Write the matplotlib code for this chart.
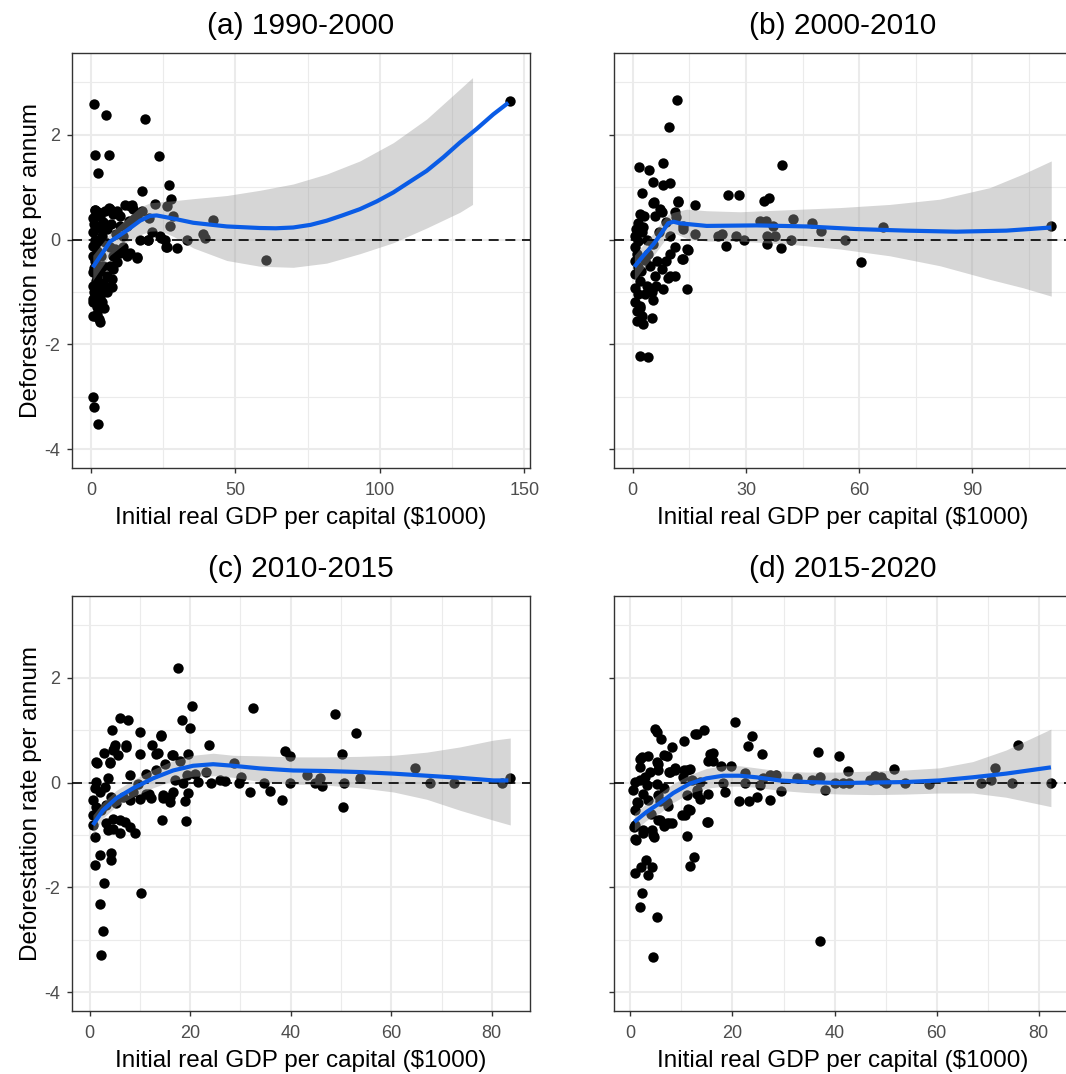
import matplotlib
matplotlib.use("Agg")
import matplotlib.pyplot as plt
from matplotlib.ticker import MultipleLocator

plt.rcParams['font.family'] = ['Liberation Sans', 'DejaVu Sans']
plt.rcParams['axes.unicode_minus'] = False

# (a) 1990-2000 : scatter points
a_x = [1.15, 5.1, 18.6, 1.3, 6.1, 2.3, 23.4, 26.9, 17.5, 27.8, 1.3, 6.1, 11.8, 14.1, 22.3, 26.2,
       42.1, 38.8, 39.6, 60.6, 145.0, 25.8, 29.7, 24.1, 17.0, 19.8, 33.1, 15.8, 12.3, 0.8, 1.0, 2.3,
       3.1, 1.2, 2.0, 3.7, 0.8, 7.2, 5.4, 27.3, 28.5, 20.2, 14.7, 12.3,
       1.4, 2.4, 0.7, 6.6, 7.6, 10.0, 13.5, 14.5, 17.6, 21.0, 24.0, 25.6, 19.7, 26.3, 15.9, 13.5,
       11.1, 10.0, 7.6, 9.0, 6.6, 7.6, 5.5, 7.3, 4.2, 5.9,
       0.8, 1.4, 0.8, 2.0, 0.6, 1.4, 2.5, 0.8, 2.0, 0.8, 2.5, 1.4, 0.6, 2.0, 0.8,
       4.2, 5.5, 3.8, 4.8, 10.0, 11.1, 3.5, 4.2, 3.5,
       1.0, 3.0, 2.2, 3.0, 1.6, 3.2, 2.8, 1.1, 4.5, 2.6, 8.5, 9.0, 5.0, 3.3, 7.0, 1.8, 0.9, 2.1,
       6.5, 8.2, 13.0, 16.0]
a_y = [2.58, 2.37, 2.30, 1.61, 1.62, 1.27, 1.60, 1.04, 0.92, 0.77, 0.57, 0.60, 0.66, 0.66, 0.67, 0.64,
       0.38, 0.11, 0.03, -0.39, 2.65, -0.15, -0.16, 0.03, 0.0, 0.0, 0.0, -0.35, -0.31, -3.0, -3.19, -3.52,
       -1.57, -1.46, -1.42, -1.2, -1.14, -0.9, -1.01, 0.26, 0.45, 0.42, 0.39, 0.26,
       0.57, 0.52, 0.42, 0.58, 0.48, 0.45, 0.64, 0.58, 0.54, 0.14, 0.07, 0.0, 0.0, -0.15, -0.34, -0.25,
       -0.15, -0.25, -0.32, -0.43, -0.51, -0.57, -0.7, -0.76, -0.82, -0.91,
       0.14, 0.0, -0.13, -0.22, -0.32, -0.41, -0.51, -0.62, -0.72, -0.89, -0.95, -1.08, -1.2, -1.29, -1.46,
       0.33, 0.2, 0.07, -0.05, 0.25, 0.07, -0.32, -0.51, -0.95,
       0.3, 0.45, -0.05, -0.6, -0.8, -1.1, -0.3, -0.55, -1.3, -1.52, 0.1, 0.55, 0.55, 0.2, 0.3, 0.25, -1.0, -1.15,
       -0.15, -0.18, 0.35, 0.45]
a_fit_x = [0.6, 6.6, 12.3, 17.0, 20.4, 22.7, 28.5, 35.4, 47.0, 58.5, 64.0, 70.0, 76.0, 81.6, 87.0, 93.1,
           99.0, 104.7, 110.0, 116.2, 122.0, 127.7, 133.5, 139.3, 144.5]
a_fit_y = [-0.53, -0.04, 0.17, 0.36, 0.45, 0.46, 0.40, 0.32, 0.25, 0.22, 0.215, 0.23, 0.28, 0.36, 0.46, 0.58,
           0.73, 0.90, 1.09, 1.31, 1.57, 1.85, 2.11, 2.39, 2.61]
a_band_x = [0.6, 6.6, 12.3, 17.0, 20.4, 23.9, 28.5, 35.4, 47.0, 58.5, 70.0, 81.6, 93.1, 104.7, 116.2, 127.7, 132.1]
a_band_hi = [-0.30, 0.12, 0.40, 0.62, 0.70, 0.72, 0.74, 0.78, 0.84, 0.94, 1.06, 1.25, 1.50, 1.85, 2.30, 2.87, 3.09]
a_band_lo = [-0.78, -0.30, -0.05, 0.09, 0.16, 0.17, 0.06, -0.16, -0.40, -0.51, -0.53, -0.45, -0.27, -0.06, 0.22, 0.52, 0.67]

# (b) 2000-2010
b_x = [11.8, 9.6, 39.6, 8.1, 1.7, 4.3, 5.3, 8.1, 9.9, 2.6, 5.7, 11.9, 16.5, 25.3, 28.1, 34.9, 36.1,
       7.7, 42.5, 47.4, 49.9, 56.2, 60.4, 66.4, 110.9, 33.7, 35.2, 37.2, 22.5, 23.6, 24.6, 27.5, 29.5,
       35.5, 37.7, 35.7, 39.3, 41.9, 14.3, 14.6, 13.4, 16.5, 13.4, 11.2, 9.4, 1.9, 4.1, 2.8, 5.1, 1.1,
       1.9, 5.3, 6.2, 3.3,
       5.5, 7.2, 5.9, 1.9, 1.4, 2.8, 12.0, 11.2, 8.9, 11.6, 13.3, 0.6, 1.5, 0.6, 1.1, 0.5, 1.5, 0.6,
       1.9, 0.6, 1.5, 0.6, 1.9, 3.7, 5.5, 4.1, 6.4, 4.6, 7.7, 5.9, 3.7, 5.0, 9.9, 11.2, 9.9, 8.9,
       14.3, 13.0, 9.9, 8.1, 2.5, 3.2, 2.2, 1.0, 3.0, 7.0, 2.4, 1.2]
b_y = [2.66, 2.15, 1.42, 1.47, 1.39, 1.32, 1.09, 1.04, 1.07, 0.88, 0.72, 0.74, 0.66, 0.85, 0.85, 0.74, 0.79,
       0.53, 0.39, 0.32, 0.17, 0.0, -0.43, 0.24, 0.26, 0.36, 0.36, 0.26, 0.07, 0.1, -0.12, 0.07, 0.0,
       0.07, 0.07, -0.09, -0.17, 0.0, -0.95, -0.2, -0.38, 0.1, 0.2, -0.69, -0.73, -2.22, -2.25, -1.62, -1.5, -1.36,
       -1.27, -1.16, -0.89, -1.04,
       0.7, 0.58, 0.45, 0.48, 0.32, 0.23, 0.71, 0.52, 0.33, 0.43, 0.26, 0.07, -0.03, -0.15, -0.28, -0.41, -0.53, -0.66,
       -0.79, -0.92, -1.04, -1.2, -1.3, 0.0, -0.09, -0.28, -0.41, -0.5, -0.57, -0.69, -0.89, -1.01, 0.07, -0.15, -0.28, -0.41,
       -0.19, -0.38, -0.69, -0.95, 0.15, -0.4, -0.6, 0.2, 0.45, 0.15, -1.45, -1.55]
b_fit_x = [0.44, 2.8, 5.5, 7.7, 9.4, 10.8, 12.5, 19.6, 32.8, 46.1, 59.3, 72.5, 85.8, 99.0, 110.9]
b_fit_y = [-0.52, -0.31, -0.09, 0.13, 0.31, 0.34, 0.31, 0.26, 0.27, 0.25, 0.20, 0.17, 0.15, 0.17, 0.23]
b_band_x = [0.44, 2.8, 5.5, 7.7, 9.4, 10.8, 14.3, 19.6, 28.4, 41.6, 54.9, 68.1, 81.4, 94.6, 103.4, 110.9]
b_band_hi = [-0.30, -0.10, 0.12, 0.35, 0.48, 0.52, 0.58, 0.55, 0.53, 0.57, 0.61, 0.67, 0.77, 0.99, 1.25, 1.50]
b_band_lo = [-0.78, -0.55, -0.31, -0.09, 0.07, 0.13, 0.02, -0.03, -0.03, -0.09, -0.18, -0.31, -0.50, -0.76, -0.92, -1.08]

# (c) 2010-2015
c_x = [17.6, 20.3, 32.5, 48.8, 52.9, 18.4, 19.9, 6.0, 7.6, 4.5, 10.0, 14.3, 7.3, 4.8, 2.8, 1.5, 4.0,
       5.6, 10.1, 12.5, 13.6, 16.6, 23.8, 19.6, 38.8, 39.8, 50.2, 28.8, 64.7, 50.5, 38.2, 35.9, 31.9,
       30.2, 27.0, 24.1, 21.6, 20.9, 23.2, 19.3, 18.9, 19.1, 14.5, 16.6, 15.9, 14.7, 10.0, 11.8, 10.3,
       2.8, 2.0, 2.7, 2.3, 1.0, 2.0, 4.3, 4.3, 1.0, 0.66, 3.7, 4.6, 6.0, 7.0, 8.0, 9.0, 39.8, 43.2,
       44.9, 45.9, 46.3, 50.7, 53.8, 67.7, 72.4, 82.0, 83.7, 34.7, 29.7,
       4.6, 4.0, 1.3, 7.3, 5.0, 13.3, 14.3, 16.3, 17.9, 1.3, 1.0, 2.0, 0.66, 1.3, 2.3, 0.66, 3.6, 3.0,
       4.3, 3.3, 5.3, 6.6, 8.0, 9.6, 8.6, 8.0, 11.3, 13.3, 14.9, 11.3, 12.3, 14.6, 15.9, 3.3, 4.6, 6.0,
       18.5, 17.0, 19.5, 26.0]
c_y = [2.18, 1.47, 1.43, 1.30, 0.95, 1.19, 1.04, 1.23, 1.2, 1.01, 0.97, 0.88, 0.68, 0.65, 0.57, 0.37, 0.37,
       0.52, 0.55, 0.71, 0.57, 0.52, 0.72, 0.54, 0.6, 0.51, 0.55, 0.38, 0.28, -0.46, -0.34, -0.17, -0.18,
       0.1, 0.03, 0.0, 0.01, 0.17, 0.2, 0.14, -0.35, -0.74, -0.72, -0.18, -0.27, -0.3, -0.32, -0.21, -2.11,
       -1.91, -2.32, -2.84, -3.3, -1.57, -1.38, -1.34, -1.47, -1.03, -0.81, -0.91, -0.7, -0.72, -0.75, -0.84, -0.97, -0.01, 0.15,
       -0.01, 0.09, -0.06, -0.01, 0.09, 0.0, 0.0, 0.0, 0.08, 0.0, 0.0,
       0.62, 0.39, 0.39, 0.71, 0.71, 0.55, 0.9, 0.52, 0.42, 0.01, -0.11, -0.18, -0.34, -0.46, -0.53, -0.62, 0.08, -0.08,
       -0.27, -0.43, -0.4, -0.27, 0.14, -0.02, -0.18, -0.34, 0.17, 0.23, 0.36, -0.21, -0.3, -0.24, -0.37, -0.78, -0.88, -0.97,
       0.0, 0.05, -0.2, 0.05]
c_fit_x = [0.66, 2.66, 5.31, 8.63, 12.62, 16.6, 20.58, 24.57, 28.55, 33.86, 40.5, 47.14, 53.78, 60.43, 67.07, 73.7, 80.35, 83.3]
c_fit_y = [-0.81, -0.53, -0.30, -0.11, 0.08, 0.23, 0.32, 0.35, 0.32, 0.27, 0.23, 0.22, 0.20, 0.17, 0.13, 0.09, 0.04, 0.04]
c_band_x = [0.66, 2.66, 5.31, 8.63, 12.62, 16.6, 20.58, 24.57, 28.55, 33.86, 40.5, 47.14, 53.78, 60.43, 67.07, 73.7, 80.35, 83.67]
c_band_hi = [-0.62, -0.38, -0.15, 0.05, 0.25, 0.42, 0.52, 0.56, 0.52, 0.51, 0.49, 0.49, 0.50, 0.52, 0.58, 0.68, 0.81, 0.85]
c_band_lo = [-1.00, -0.68, -0.45, -0.27, -0.10, 0.04, 0.12, 0.13, 0.10, 0.02, -0.03, -0.05, -0.10, -0.18, -0.32, -0.53, -0.72, -0.81]

# (d) 2015-2020
d_x = [20.5, 4.8, 6.1, 14.5, 12.6, 10.6, 8.1, 23.8, 23.1, 25.7, 16.2, 15.2, 7.1, 3.5, 1.9, 5.5, 7.6,
       8.7, 10.6, 11.7, 17.7, 19.7, 36.8, 40.9, 42.6, 51.6, 75.9, 71.4, 82.4, 74.7, 68.7, 70.6, 58.5,
       53.8, 50.1, 47.0, 48.0, 49.0, 49.5, 40.1, 41.6, 42.8, 38.2, 37.1, 35.5, 32.7, 29.6, 27.3, 28.6,
       27.3, 24.8, 23.2, 21.2, 18.5, 18.1, 22.5, 22.5, 25.3, 26.0, 15.1, 11.0, 12.5, 11.7, 10.1, 11.3,
       7.6, 6.5, 5.5, 4.2, 4.7, 2.5, 1.1, 0.8, 3.1, 2.0, 4.3, 1.0, 3.4, 2.2, 1.9, 5.3, 4.5, 37.2,
       7.4, 5.8, 13.6, 13.0,
       5.2, 6.5, 13.0, 2.2, 5.2, 1.9, 5.5, 7.8, 8.7, 11.0, 15.6, 16.2, 0.9, 1.9, 3.2, 0.6, 2.5, 1.3,
       3.5, 0.9, 5.2, 6.5, 5.5, 7.1, 10.4, 12.0, 13.6, 11.0, 13.0, 15.2, 11.7, 10.7, 0.9, 2.5, 0.9, 4.5,
       15.2, 5.8, 7.1, 8.1, 1.5, 2.8, 4.0, 3.8]
d_y = [1.16, 1.02, 0.84, 1.0, 0.92, 0.79, 0.68, 0.88, 0.7, 0.55, 0.57, 0.41, 0.51, 0.51, 0.44, 0.36, 0.2,
       0.23, 0.23, 0.25, 0.31, 0.31, 0.58, 0.5, 0.22, 0.25, 0.72, 0.28, 0.0, 0.0, 0.0, 0.04, -0.02,
       0.0, 0.0, 0.05, 0.12, 0.1, 0.02, 0.0, 0.0, 0.0, -0.15, 0.11, 0.04, 0.08, -0.16, 0.14, 0.14,
       -0.34, -0.27, -0.36, -0.36, -0.19, 0.0, 0.18, 0.0, -0.05, 0.08, -0.75, -1.02, -1.43, -1.6, -0.61, -0.5,
       -0.78, -0.83, -0.72, -0.9, -1.03, -0.97, -1.09, -0.84, -1.47, -1.61, -1.61, -1.72, -1.77, -2.11, -2.37, -2.57, -3.32, -3.03,
       -0.45, -0.35, -0.32, -0.21,
       0.96, 0.52, 0.93, 0.49, 0.39, 0.3, 0.23, 0.2, 0.27, 0.23, 0.55, 0.42, 0.01, 0.04, -0.05, -0.15, -0.21, -0.37,
       -0.34, -0.53, -0.02, -0.11, -0.24, -0.37, 0.11, 0.04, 0.01, -0.24, -0.15, -0.21, -0.53, -0.62, -0.81, -0.91, -1.07, -1.0,
       -0.75, -0.72, -0.78, -0.78, -0.4, 0.1, -0.6, 0.2]
d_fit_x = [0.78, 3.19, 5.8, 8.41, 11.67, 14.92, 18.18, 21.44, 24.7, 29.26, 34.47, 40.99, 47.51, 54.02, 60.54, 67.06, 73.57, 82.37]
d_fit_y = [-0.75, -0.56, -0.39, -0.20, -0.02, 0.08, 0.13, 0.13, 0.10, 0.04, 0.01, -0.01, 0.0, 0.01, 0.04, 0.10, 0.17, 0.29]
d_band_hi = [-0.59, -0.40, -0.20, -0.02, 0.15, 0.27, 0.32, 0.32, 0.28, 0.22, 0.20, 0.20, 0.22, 0.24, 0.28, 0.40, 0.62, 1.02]
d_band_lo = [-0.92, -0.72, -0.58, -0.38, -0.20, -0.11, -0.07, -0.07, -0.09, -0.15, -0.19, -0.22, -0.23, -0.22, -0.20, -0.20, -0.28, -0.46]

titles = ["(a) 1990-2000", "(b) 2000-2010", "(c) 2010-2015", "(d) 2015-2020"]
xlabel = "Initial real GDP per capital ($1000)"
ylabel = "Deforestation rate per annum"


def draw_panel(ax, x, y, fit_x, fit_y, band_x, band_lo, band_hi, title, xmajor, xlim, show_ylab):
    ax.set_facecolor("white")
    ax.grid(which="major", color="#EBEBEB", linewidth=1.5)
    ax.grid(which="minor", color="#EBEBEB", linewidth=0.8)
    ax.set_axisbelow(True)

    ax.scatter(x, y, s=56, color="black", linewidths=0, zorder=2)
    ax.fill_between(band_x, band_lo, band_hi, color="#999999", alpha=0.4, linewidth=0, zorder=3)
    ax.axhline(0, color="black", linestyle=(0, (6, 4)), linewidth=1.2, zorder=4)
    ax.plot(fit_x, fit_y, color="#0A5CE6", linewidth=3, zorder=5, solid_capstyle="butt")

    ax.set_xlim(*xlim)
    ax.set_ylim(-4.36, 3.56)
    ax.xaxis.set_major_locator(MultipleLocator(xmajor))
    ax.xaxis.set_minor_locator(MultipleLocator(xmajor / 2))
    ax.yaxis.set_major_locator(MultipleLocator(2))
    ax.yaxis.set_minor_locator(MultipleLocator(1))
    ax.tick_params(which="minor", length=0)
    ax.tick_params(which="major", length=3.5, width=1.0, color="#333333",
                   labelsize=13, labelcolor="#4D4D4D")
    ax.tick_params(axis="x", pad=6.5)
    ax.tick_params(axis="y", pad=5)
    for sp in ax.spines.values():
        sp.set_color("#333333")
        sp.set_linewidth(1.0)

    ax.set_title(title, fontsize=21.5, pad=13.5)
    ax.set_xlabel(xlabel, fontsize=17.5, labelpad=6)
    if show_ylab:
        ax.set_ylabel(ylabel, fontsize=17.5, labelpad=2)
    else:
        ax.tick_params(axis="y", labelleft=False)


W, H = 1066, 1074
fig = plt.figure(figsize=(W / 100, H / 100), dpi=100)

aw, ah = 458 / W, 415 / H
ax_a = fig.add_axes([72 / W, 1 - 468 / H, aw, ah])
ax_b = fig.add_axes([614 / W, 1 - 468 / H, aw, ah])
ax_c = fig.add_axes([72 / W, 1 - 1011 / H, aw, ah])
ax_d = fig.add_axes([614 / W, 1 - 1011 / H, aw, ah])

draw_panel(ax_a, a_x, a_y, a_fit_x, a_fit_y, a_band_x, a_band_lo, a_band_hi,
           titles[0], 50, (-6.6, 152.0), True)
draw_panel(ax_b, b_x, b_y, b_fit_x, b_fit_y, b_band_x, b_band_lo, b_band_hi,
           titles[1], 30, (-4.95, 116.4), False)
draw_panel(ax_c, c_x, c_y, c_fit_x, c_fit_y, c_band_x, c_band_lo, c_band_hi,
           titles[2], 20, (-3.5, 87.6), True)
draw_panel(ax_d, d_x, d_y, d_fit_x, d_fit_y, d_fit_x, d_band_lo, d_band_hi,
           titles[3], 20, (-3.2, 86.5), False)

fig.savefig("out.png", dpi=100, facecolor="white")
